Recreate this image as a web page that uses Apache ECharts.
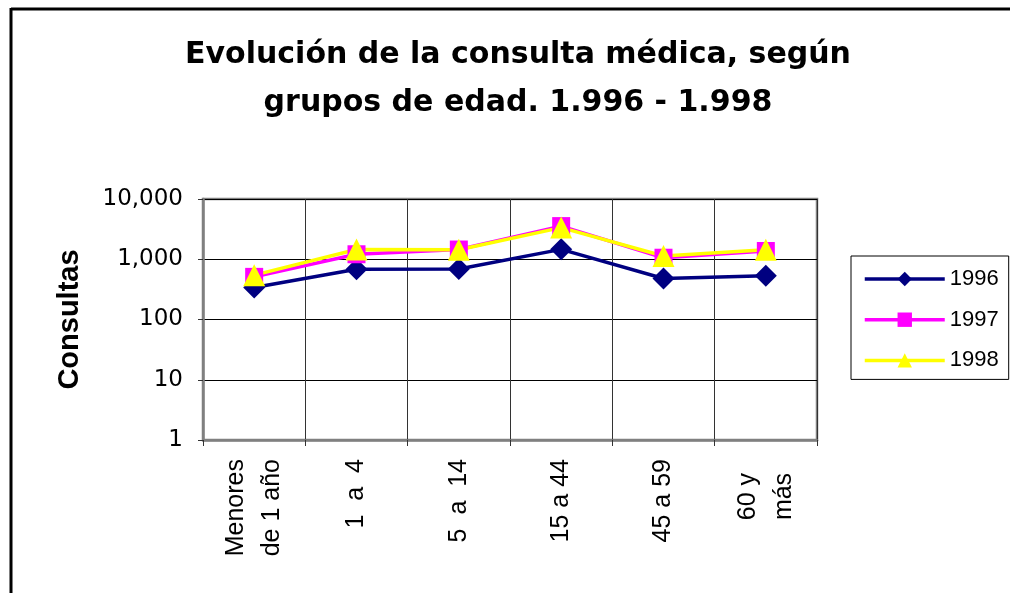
<!DOCTYPE html>
<html>
<head>
<meta charset="utf-8">
<script src="https://cdn.jsdelivr.net/npm/echarts@6/dist/echarts.min.js"></script>
<style>
  html, body { margin: 0; padding: 0; background: #fff; overflow: hidden; }
  #chart { width: 1010px; height: 593px; }
</style>
</head>
<body>
<div id="chart"></div>
<script>
// Age groups (line breaks as they appear under the axis)
var categories = ['Menores\nde 1 año', '1  a  4', '5  a  14', '15 a 44', '45 a 59', '60 y  \nmás  '];

// Medical consultations per age group and year
var years = ['1996', '1997', '1998'];
var values1996 = [340, 680, 690, 1460, 480, 530];
var values1997 = [510, 1210, 1450, 3550, 1060, 1370];
var values1998 = [545, 1450, 1440, 3350, 1130, 1440];

// Logarithmic value-axis ticks
var yTicks = [1, 10, 100, 1000, 10000];

function withThousands(v) {
  return String(Math.round(v)).replace(/\B(?=(\d{3})+(?!\d))/g, ',');
}

var chart = echarts.init(document.getElementById('chart'), null, { renderer: 'canvas' });

var option = {
  animation: false,
  backgroundColor: '#fff',
  title: {
    text: 'Evolución de la consulta médica, según\ngrupos de edad. 1.996 - 1.998',
    left: 518,
    top: 31,
    textAlign: 'center',
    padding: 0,
    textStyle: {
      fontFamily: 'DejaVu Sans',
      fontWeight: 'bold',
      fontSize: 30,
      lineHeight: 48,
      color: '#000'
    }
  },
  // chart-area frame: left and top edges only, running off the page
  graphic: [
    {
      type: 'line',
      shape: { x1: 11, y1: 9, x2: 1010, y2: 9 },
      style: { stroke: '#000', lineWidth: 3 },
      silent: true,
      z: 100
    },
    {
      type: 'line',
      shape: { x1: 11, y1: 8, x2: 11, y2: 593 },
      style: { stroke: '#000', lineWidth: 3 },
      silent: true,
      z: 100
    }
  ],
  legend: {
    orient: 'vertical',
    left: 851,
    top: 256,
    padding: [12, 10, 8, 12],
    itemWidth: 80,
    itemHeight: 18,
    itemGap: 18.7,
    itemTextGap: 7,
    borderColor: '#000',
    borderWidth: 1,
    backgroundColor: '#fff',
    data: years,
    lineStyle: { width: 3.5 },
    textStyle: {
      fontFamily: 'Liberation Sans',
      fontSize: 22,
      lineHeight: 22,
      color: '#000'
    }
  },
  grid: {
    left: 203,
    top: 199,
    width: 614,
    height: 241,
    show: true,
    borderColor: '#808080',
    borderWidth: 2.5,
    backgroundColor: '#fff',
    containLabel: false,
    outerBoundsMode: 'none'
  },
  xAxis: {
    type: 'category',
    data: categories,
    boundaryGap: true,
    axisLine: { show: true, lineStyle: { color: '#808080', width: 2.5 } },
    axisTick: { show: true, length: 6, lineStyle: { color: '#333', width: 1 } },
    splitLine: { show: true, lineStyle: { color: '#333', width: 1 } },
    axisLabel: {
      rotate: 90,
      margin: 19,
      interval: 0,
      fontFamily: 'Liberation Sans',
      fontSize: 25,
      lineHeight: 36,
      color: '#000'
    }
  },
  yAxis: {
    type: 'log',
    logBase: 10,
    min: yTicks[0],
    max: yTicks[yTicks.length - 1],
    splitNumber: 4,
    name: 'Consultas',
    nameLocation: 'middle',
    nameRotate: 90,
    nameGap: 119,
    nameTextStyle: {
      fontFamily: 'Liberation Sans',
      fontWeight: 'bold',
      fontSize: 29,
      color: '#000'
    },
    axisLine: { show: true, lineStyle: { color: '#808080', width: 2.5 } },
    axisTick: { show: true, length: 5, lineStyle: { color: '#333', width: 1 } },
    minorTick: { show: false },
    splitLine: { show: true, lineStyle: { color: '#000', width: 1 } },
    axisLabel: {
      margin: 20,
      fontFamily: 'DejaVu Sans',
      fontSize: 23,
      color: '#000',
      formatter: function (v) { return withThousands(v); }
    }
  },
  series: [
    {
      name: years[0],
      type: 'line',
      data: values1996,
      symbol: 'diamond',
      symbolSize: 22,
      color: '#000080',
      lineStyle: { color: '#000080', width: 3.5 },
      itemStyle: { color: '#000080' },
      emphasis: { disabled: true }
    },
    {
      name: years[1],
      type: 'line',
      data: values1997,
      symbol: 'rect',
      symbolSize: 18,
      color: '#ff00ff',
      lineStyle: { color: '#ff00ff', width: 3.5 },
      itemStyle: { color: '#ff00ff' },
      emphasis: { disabled: true }
    },
    {
      name: years[2],
      type: 'line',
      data: values1998,
      symbol: 'triangle',
      symbolSize: 22,
      color: '#ffff00',
      lineStyle: { color: '#ffff00', width: 3.5 },
      itemStyle: { color: '#ffff00' },
      emphasis: { disabled: true }
    }
  ]
};

chart.setOption(option);
</script>
</body>
</html>
